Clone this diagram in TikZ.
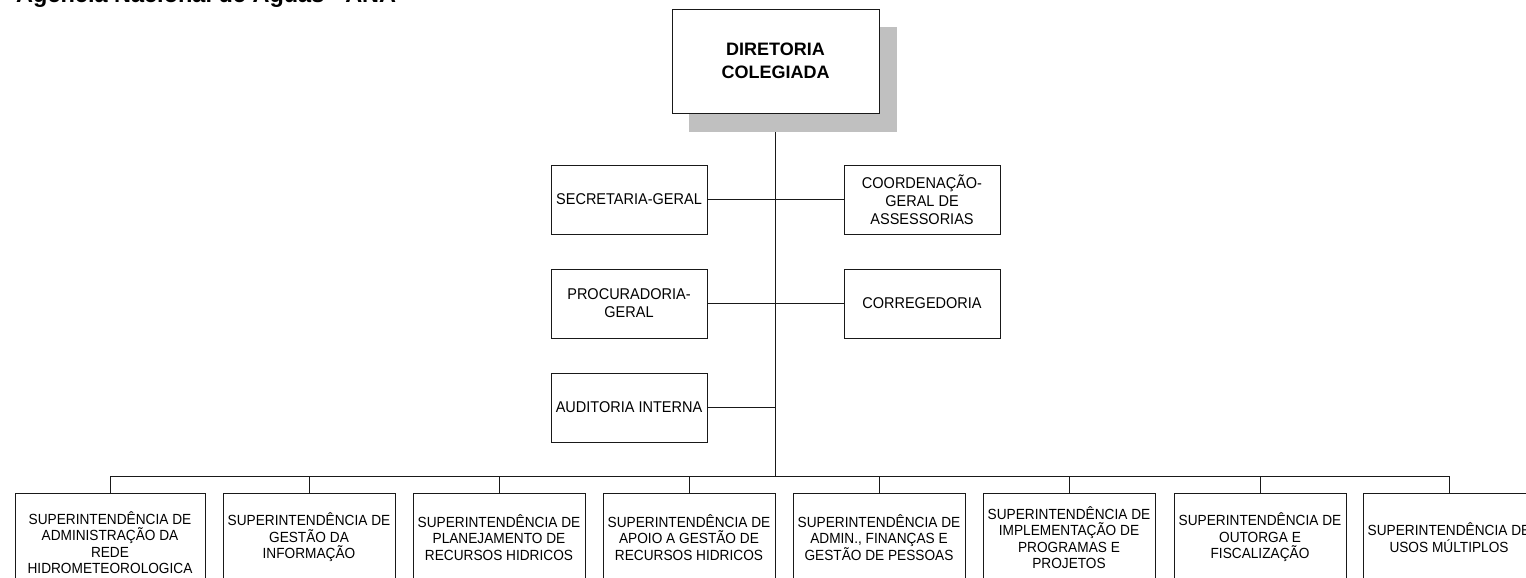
\documentclass[tikz,border=0pt]{standalone}
\usepackage{fontspec}
\setmainfont{Liberation Sans}
\newfontfamily\condfont[FakeStretch=0.93]{Liberation Sans}
\usetikzlibrary{backgrounds}
\definecolor{shadowgray}{RGB}{192,192,192}
\definecolor{ink}{RGB}{25,25,25}
\begin{document}
\begin{tikzpicture}[x=1pt,y=-1pt,
  box/.style={draw=ink, line width=1pt, fill=white, align=center, inner sep=0pt, text=black},
  topbox/.style={box, minimum width=207pt, minimum height=103.5pt, font=\bfseries\fontsize{18}{23}\selectfont},
  midbox/.style={box, minimum width=156pt, minimum height=69pt, font=\condfont\fontsize{15.6}{18}\selectfont},
  subbox/.style={box, minimum width=172pt, minimum height=88pt, anchor=north, font=\condfont\fontsize{14.7}{16.5}\selectfont},
  link/.style={draw=ink, line width=1pt}]
\useasboundingbox (0,0) rectangle (1526,578);
\clip (0,0) rectangle (1526,578);

\node[anchor=base west, inner sep=0pt, font=\bfseries\fontsize{23.5}{28}\selectfont] (title) at (16,2.5) {Agência Nacional de Águas - ANA};

\node[topbox] (dir) at (775.5,61.3) {DIRETORIA\\COLEGIADA};

\node[midbox] (sec) at (629,199.5) {SECRETARIA-GERAL};
\node[midbox] (coord) at (922,199.5) {COORDENAÇÃO-\\GERAL DE\\ASSESSORIAS};
\node[midbox] (proc) at (629,303.5) {PROCURADORIA-\\GERAL};
\node[midbox] (corr) at (922,303.5) {CORREGEDORIA};
\node[midbox] (aud) at (629,407.5) {AUDITORIA INTERNA};

\coordinate (bus) at (775.5,476);
\node[subbox, minimum width=190pt, minimum height=98pt] (s1) at (110,493) {SUPERINTENDÊNCIA DE\\ADMINISTRAÇÃO DA\\REDE\\HIDROMETEOROLOGICA};
\node[subbox] (s2) at (309,493) {SUPERINTENDÊNCIA DE\\GESTÃO DA\\INFORMAÇÃO};
\node[subbox] (s3) at (499,493) {SUPERINTENDÊNCIA DE\\PLANEJAMENTO DE\\RECURSOS HIDRICOS};
\node[subbox] (s4) at (689,493) {SUPERINTENDÊNCIA DE\\APOIO A GESTÃO DE\\RECURSOS HIDRICOS};
\node[subbox] (s5) at (879,493) {SUPERINTENDÊNCIA DE\\ADMIN., FINANÇAS E\\GESTÃO DE PESSOAS};
\node[subbox] (s6) at (1069,493) {SUPERINTENDÊNCIA DE\\IMPLEMENTAÇÃO DE\\PROGRAMAS E\\PROJETOS};
\node[subbox] (s7) at (1260,493) {SUPERINTENDÊNCIA DE\\OUTORGA E\\FISCALIZAÇÃO};
\node[subbox] (s8) at (1449,493) {SUPERINTENDÊNCIA DE\\USOS MÚLTIPLOS};

\begin{pgfonlayer}{background}
  \draw[link] (dir.south) -- (bus);
  \draw[link] (sec.east) -- (coord.west);
  \draw[link] (proc.east) -- (corr.west);
  \draw[link] (aud.east) -- (aud.east -| bus);
  \draw[link] (s1.north |- bus) -- (s8.north |- bus);
  \foreach \n in {1,...,8} {\draw[link] (s\n.north) -- (s\n.north |- bus);}
  \fill[shadowgray] ([shift={(17,18)}]dir.north west) rectangle ([shift={(17,18)}]dir.south east);
\end{pgfonlayer}
\end{tikzpicture}
\end{document}
